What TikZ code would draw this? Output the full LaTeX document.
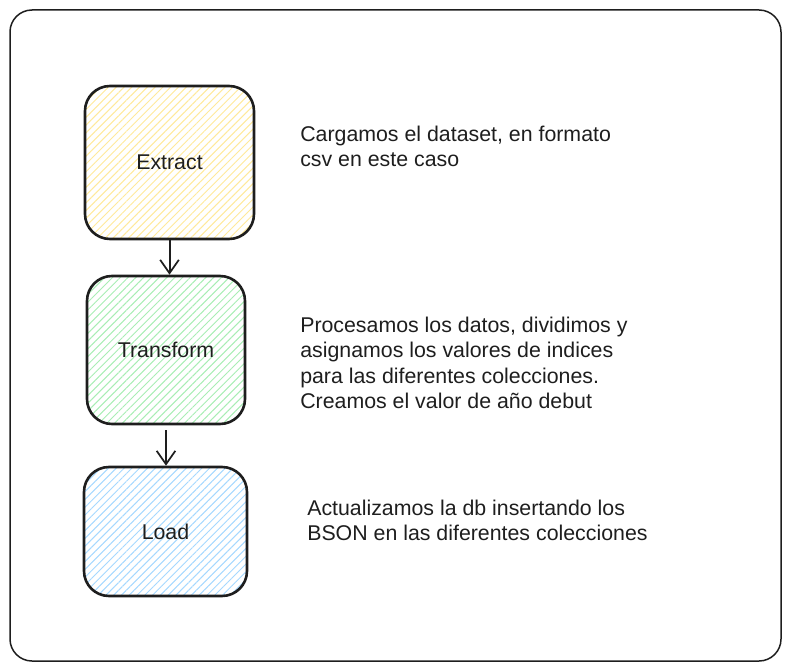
\documentclass[tikz,border=0pt]{standalone}
\usepackage{fontspec}
\setmainfont{Liberation Sans}
\usetikzlibrary{arrows.meta,patterns.meta,positioning}
\def\px{0.75pt}

\definecolor{gelb}{HTML}{FFE99A}
\definecolor{gruen}{HTML}{A8EDB4}
\definecolor{blau}{HTML}{A5D8FF}
\definecolor{tinte}{HTML}{1E1E1E}

\tikzset{
	etapa/.style={draw=tinte,line width=2.6*\px,rounded corners=25*\px,
		font=\fontsize{16}{19}\selectfont,text=tinte},
	schraffur/.style={pattern={Lines[angle=45,distance=5.5*\px,line width=1*\px]},pattern color=#1},
	nota/.style={align=left,anchor=north west,inner sep=0pt,text=tinte,
		font=\fontsize{16}{18.9}\selectfont},
}

\begin{document}
\begin{tikzpicture}[x=\px,y=-\px,>={Straight Barb[length=10pt,width=14pt,line width=1.3pt]}]
\useasboundingbox (0,0) rectangle (791,670);

% Rahmen
\draw[tinte,line width=1.5*\px,rounded corners=22*\px] (10,10) rectangle (781,661);

% Etappen
\node[etapa,schraffur=gelb,minimum width=169*\px,minimum height=153*\px] (extract) at (169.5,162.5) {Extract};
\node[etapa,schraffur=gruen,minimum width=158*\px,minimum height=148*\px] (transform) at (166,350) {Transform};
\node[etapa,schraffur=blau,minimum width=163*\px,minimum height=129*\px] (load) at (165.5,531.5) {Load};

% Pfeile
\draw[->,tinte,line width=2*\px] (extract.south) -- (extract.south |- transform.north);
\draw[->,tinte,line width=2*\px] ([yshift=-5*\px]transform.south) -- (transform.south |- load.north);

% Beschreibungen
\node[nota] (notaE) at (300,126) {Cargamos el dataset, en formato\\csv en este caso};
\node[nota] (notaT) at (300,317) {Procesamos los datos, dividimos y\\asignamos los valores de indices\\para las diferentes colecciones.\\Creamos el valor de año debut};
\node[nota] (notaL) at (307,500) {Actualizamos la db insertando los\\BSON en las diferentes colecciones};

\end{tikzpicture}
\end{document}
